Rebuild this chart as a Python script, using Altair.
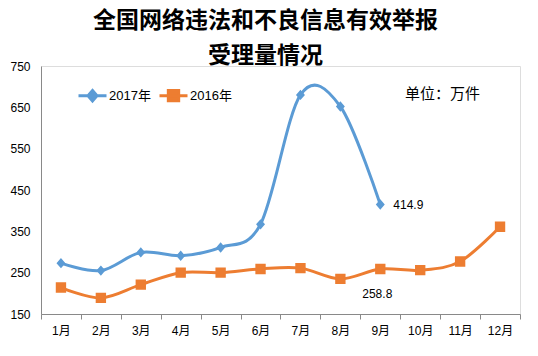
import altair as alt
import pandas as pd

months = ['1月', '2月', '3月', '4月', '5月', '6月', '7月', '8月', '9月', '10月', '11月', '12月']
v2017 = [273, 255, 299, 291, 311, 367, 680, 652, 414.9]
v2016 = [214, 189, 221, 250, 250, 259, 261, 235, 258.8, 256, 277, 361]
series = ['2017年', '2016年']
colors = ['#5B9BD5', '#ED7D31']
title_lines = ['全国网络违法和不良信息有效举报', '受理量情况']
unit_text = '单位：万件'
y_ticks = [150, 250, 350, 450, 550, 650, 750]

rows = []
for i, v in enumerate(v2017):
    rows.append({'month': months[i], 'value': v, 'series': series[0]})
for i, v in enumerate(v2016):
    rows.append({'month': months[i], 'value': v, 'series': series[1]})
df = pd.DataFrame(rows)

W, H = 479, 248
FONT = 'Liberation Sans, Noto Sans CJK SC, sans-serif'

diamond_path = 'M-1,0H1M0,-0.37L0.32,0L0,0.37L-0.32,0Z'
square_path = 'M-1,0H1M-0.37,-0.37H0.37V0.37H-0.37Z'

x_enc = alt.X('month:O', sort=months, bandPosition=0.5,
              scale=alt.Scale(type='band', domain=months, paddingInner=0, paddingOuter=0),
              axis=alt.Axis(title=None, grid=False, labelAngle=0, tickBand='extent',
                            labelOverlap=False,
                            domainColor='#898989', tickColor='#898989', tickSize=5,
                            labelPadding=6, labelFontSize=12, labelColor='#000000',
                            labelFont=FONT))
y_enc = alt.Y('value:Q',
              scale=alt.Scale(domain=[150, 750], nice=False, zero=False),
              axis=alt.Axis(values=y_ticks, title=None, grid=False, ticks=False,
                            domainColor='#898989', labelPadding=11, labelFontSize=12,
                            labelColor='#000000', labelFont=FONT))

color_scale = alt.Scale(domain=series, range=colors)
leg = alt.Legend(title=None, orient='none', legendX=36, legendY=14, direction='horizontal',
                 symbolSize=784, symbolStrokeWidth=3, labelFontSize=13, labelFont=FONT,
                 labelColor='#000000', labelOffset=1, columnPadding=2, padding=0)

base = alt.Chart(df)

lines = base.mark_line(interpolate='cardinal', strokeWidth=3).encode(
    x=x_enc, y=y_enc,
    color=alt.Color('series:N', scale=color_scale, legend=leg))

points = base.mark_point(filled=True, opacity=1, size=784).encode(
    x=x_enc, y=y_enc,
    color=alt.Color('series:N', scale=color_scale, legend=leg),
    shape=alt.Shape('series:N', scale=alt.Scale(domain=series, range=[diamond_path, square_path]),
                    legend=leg))

lab17 = base.transform_filter("datum.series == '2017年' && datum.month == '9月'").mark_text(
    align='left', baseline='middle', dx=13, fontSize=12, font=FONT, color='#000000').encode(
    x=x_enc, y=y_enc, text=alt.Text('value:Q', format='.1f'))

lab16 = base.transform_filter("datum.series == '2016年' && datum.month == '9月'").mark_text(
    align='center', baseline='middle', dx=-3, dy=25, fontSize=12, font=FONT, color='#000000').encode(
    x=x_enc, y=y_enc, text=alt.Text('value:Q', format='.1f'))

unit = alt.Chart(pd.DataFrame({'t': [unit_text]})).mark_text(
    align='left', baseline='middle', fontSize=15, font='Noto Sans CJK SC', color='#000000').encode(
    x=alt.value(364), y=alt.value(28), text='t:N')

chart = alt.layer(lines, points, lab17, lab16, unit).properties(
    width=W, height=H,
    title=alt.TitleParams(title_lines, anchor='middle', frame='group', dx=-15, offset=-8,
                          fontSize=23, lineHeight=35, font='Noto Sans CJK SC',
                          fontWeight='bold', color='#000000'),
    autosize=alt.AutoSizeParams(type='none'),
    padding={'left': 41, 'top': 66, 'right': 18, 'bottom': 42}
).configure_view(stroke=None).configure(background='white')

chart.save('out.html', embed_options={'renderer': 'svg', 'actions': False})
